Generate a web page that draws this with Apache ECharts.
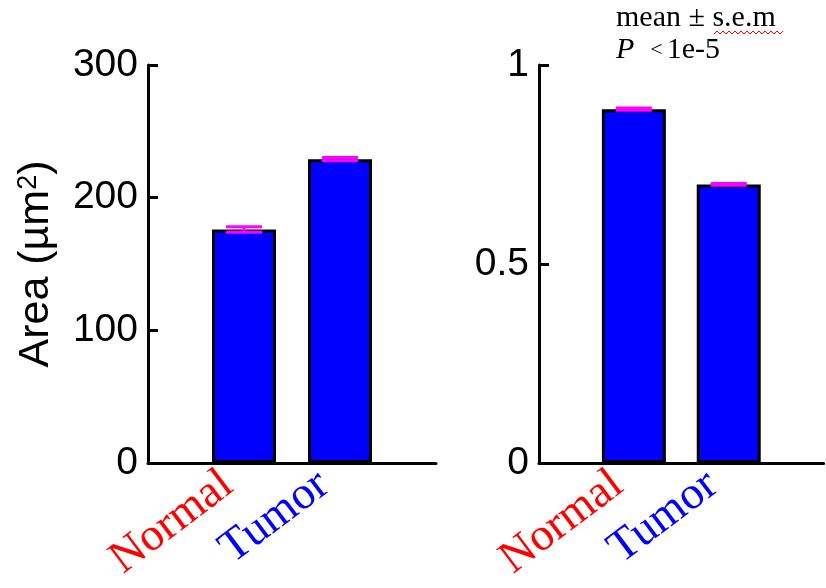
<!DOCTYPE html>
<html>
<head>
<meta charset="utf-8">
<script src="https://cdn.jsdelivr.net/npm/echarts@6/dist/echarts.min.js"></script>
<style>
  html, body { margin: 0; padding: 0; background: #fff; }
  #chart { width: 826px; height: 588px; }
</style>
</head>
<body>
<div id="chart"></div>
<script>
// Group names shown under both panels
const categories = ['Normal', 'Tumor'];
// Left panel: area in µm² (mean and s.e.m)
const areaMean = [176, 229];
const areaSem = [2, 1.2];
// Right panel: ratio (mean and s.e.m)
const ratioMean = [0.889, 0.700];
const ratioSem = [0.003, 0.002];
// Y tick settings
const areaTicks = { min: 0, max: 300, interval: 100 };
const ratioTicks = { min: 0, max: 1, interval: 0.5 };

// Padded category list so the two groups sit at 1/3 and 2/3 of each axis
const axisCats = [''].concat(categories, ['']);
const pad = (arr) => [null].concat(arr, [null]);

const chart = echarts.init(document.getElementById('chart'), null, { renderer: 'canvas' });

const catLabelRich = {
  Normal: { color: '#ff0000', fontFamily: 'Liberation Serif', fontSize: 46 },
  Tumor: { color: '#0000ff', fontFamily: 'Liberation Serif', fontSize: 46 }
};

function xAxisFor(gridIndex) {
  return {
    type: 'category',
    gridIndex: gridIndex,
    data: axisCats,
    boundaryGap: false,
    axisLine: { lineStyle: { color: '#000', width: 3 } },
    axisTick: { show: false },
    splitLine: { show: false },
    axisLabel: {
      interval: 0,
      rotate: 37,
      margin: 5,
      padding: [0, 20, 0, 0],
      formatter: (v) => v ? '{' + v + '|' + v + '}' : '',
      rich: catLabelRich
    }
  };
}

function yAxisFor(gridIndex, ticks, extra) {
  return Object.assign({
    type: 'value',
    gridIndex: gridIndex,
    min: ticks.min,
    max: ticks.max,
    interval: ticks.interval,
    axisLine: { show: true, lineStyle: { color: '#000', width: 3 } },
    axisTick: { show: true, inside: true, length: 10, lineStyle: { color: '#000', width: 3 } },
    splitLine: { show: false },
    axisLabel: { color: '#000', fontFamily: 'Liberation Sans', fontSize: 39, margin: 10 }
  }, extra || {});
}

function barSeries(axisIndex, values) {
  return {
    type: 'bar',
    xAxisIndex: axisIndex,
    yAxisIndex: axisIndex,
    data: pad(values),
    barWidth: 64,
    itemStyle: { color: '#0000ff', borderColor: '#000', borderWidth: 3 },
    z: 2
  };
}

function errorSeries(axisIndex, means, sems) {
  return {
    type: 'custom',
    xAxisIndex: axisIndex,
    yAxisIndex: axisIndex,
    data: means.map((m, i) => [i + 1, m, sems[i]]),
    z: 5,
    renderItem: function (params, api) {
      const x = api.value(0), m = api.value(1), s = api.value(2);
      const hi = api.coord([x, m + s]);
      const lo = api.coord([x, m - s]);
      const half = 18;
      const style = { stroke: '#ff00ff', lineWidth: 3 };
      return {
        type: 'group',
        children: [
          { type: 'line', shape: { x1: hi[0] - half, y1: hi[1], x2: hi[0] + half, y2: hi[1] }, style: style },
          { type: 'line', shape: { x1: lo[0] - half, y1: lo[1], x2: lo[0] + half, y2: lo[1] }, style: style },
          { type: 'line', shape: { x1: hi[0], y1: hi[1], x2: lo[0], y2: lo[1] }, style: style }
        ]
      };
    }
  };
}

// Spell-check style squiggle under "s.e.m"
const squiggle = [];
for (let x = 714, k = 0; x <= 783; x += 3, k++) {
  squiggle.push([x, k % 2 ? 31 : 34]);
}

chart.setOption({
  animation: false,
  backgroundColor: '#fff',
  grid: [
    { left: 148, top: 65, width: 288, height: 398 },
    { left: 539, top: 65, width: 290, height: 398 }
  ],
  xAxis: [xAxisFor(0), xAxisFor(1)],
  yAxis: [
    yAxisFor(0, areaTicks, {
      name: 'Area (µm{sup|2})',
      nameLocation: 'middle',
      nameRotate: 90,
      nameGap: 90,
      nameTextStyle: {
        color: '#000', fontFamily: 'Liberation Sans', fontSize: 43,
        rich: { sup: { fontFamily: 'Liberation Sans', fontSize: 27, verticalAlign: 'top', lineHeight: 43 } }
      }
    }),
    yAxisFor(1, ratioTicks)
  ],
  series: [
    barSeries(0, areaMean),
    errorSeries(0, areaMean, areaSem),
    barSeries(1, ratioMean),
    errorSeries(1, ratioMean, ratioSem)
  ],
  graphic: [
    {
      type: 'text', left: 616, top: 3,
      style: { text: 'mean ± s.e.m', font: '30px "Liberation Serif"', fill: '#000' }
    },
    {
      type: 'polyline', silent: true,
      shape: { points: squiggle },
      style: { stroke: '#ff0000', lineWidth: 1, fill: null }
    },
    {
      type: 'text', left: 616, top: 35,
      style: {
        text: '{p|P}{lt|<}{v|1e-5}',
        rich: {
          p: { font: 'italic 30px "Liberation Serif"', fill: '#000' },
          lt: { font: '22px "Liberation Serif"', fill: '#000', padding: [0, 4, 0, 16] },
          v: { font: '30px "Liberation Serif"', fill: '#000' }
        }
      }
    }
  ]
});
</script>
</body>
</html>
